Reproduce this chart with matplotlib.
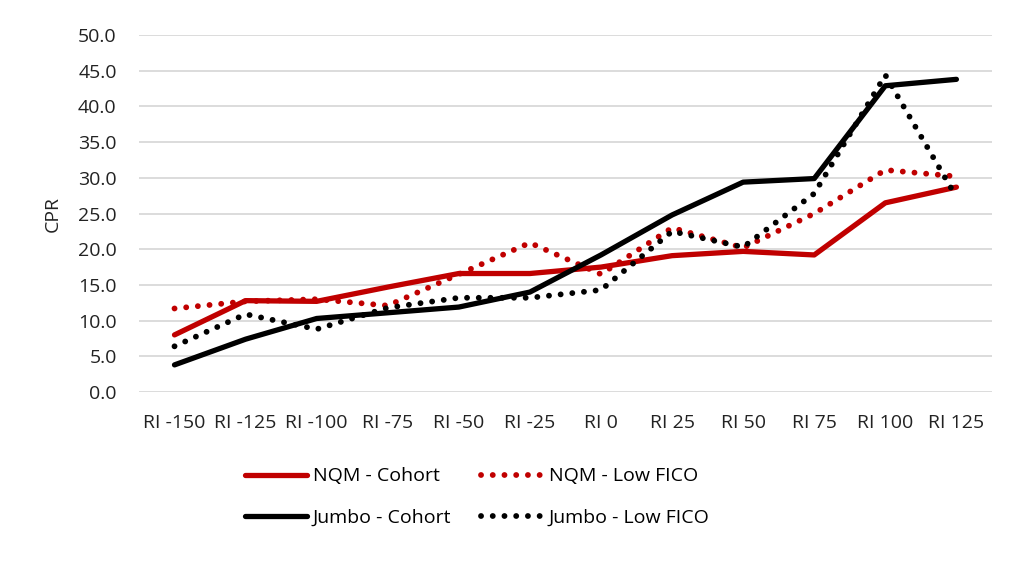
import matplotlib.pyplot as plt

# categories and series values
labels = ['RI -150', 'RI -125', 'RI -100', 'RI -75', 'RI -50', 'RI -25',
          'RI 0', 'RI 25', 'RI 50', 'RI 75', 'RI 100', 'RI 125']
nqm_cohort = [8.0, 12.8, 12.7, 14.7, 16.6, 16.6, 17.5, 19.1, 19.7, 19.2, 26.5, 28.7]
nqm_low_fico = [11.7, 12.7, 13.0, 12.1, 16.5, 20.9, 16.5, 23.0, 20.2, 25.0, 31.1, 30.2]
jumbo_cohort = [3.8, 7.4, 10.3, 11.1, 11.9, 14.0, 19.2, 24.8, 29.4, 29.9, 42.9, 43.8]
jumbo_low_fico = [6.4, 10.9, 8.8, 11.8, 13.2, 13.2, 14.3, 22.5, 20.3, 27.8, 44.4, 27.3]

plt.rcParams['font.family'] = ['Open Sans', 'DejaVu Sans']

red = '#c00000'
txt = '#222222'
fig = plt.figure(figsize=(10.24, 5.63), dpi=100)
ax = fig.add_axes([0.1357, 0.3037, 0.833, 0.634])

x = range(len(labels))
dots = (0, (0.01, 2.0))
l1, = ax.plot(x, nqm_cohort, color=red, lw=3.8, solid_capstyle='round', label='NQM - Cohort')
l2, = ax.plot(x, nqm_low_fico, color=red, lw=4.2, linestyle=dots, dash_capstyle='round', label='NQM - Low FICO')
l3, = ax.plot(x, jumbo_cohort, color='black', lw=3.8, solid_capstyle='round', label='Jumbo - Cohort')
l4, = ax.plot(x, jumbo_low_fico, color='black', lw=4.2, linestyle=dots, dash_capstyle='round', label='Jumbo - Low FICO')

ax.set_xlim(-0.5, len(labels) - 0.5)
ax.set_ylim(0, 50)
ax.set_yticks(range(0, 51, 5))
ax.set_yticklabels([f'{v:.1f}' for v in range(0, 51, 5)])
ax.set_xticks(list(x))
ax.set_xticklabels(labels)
ax.tick_params(axis='x', length=0, labelsize=14, colors=txt, pad=16)
ax.tick_params(axis='y', length=0, labelsize=14, colors=txt, pad=16)
ax.grid(axis='y', color='#d9d9d9', lw=1.3)
ax.set_axisbelow(True)
for s in ax.spines.values():
    s.set_visible(False)
ax.set_ylabel('CPR', fontsize=14, color=txt, labelpad=12)

fig.legend(handles=[l1, l3, l2, l4], loc='center', bbox_to_anchor=(0.466, 0.117),
           ncol=2, frameon=False, fontsize=14, handlelength=3.2,
           columnspacing=1.5, labelspacing=1.2, handletextpad=0.3)

plt.savefig('out.png', dpi=100)
print("Image generation complete")
